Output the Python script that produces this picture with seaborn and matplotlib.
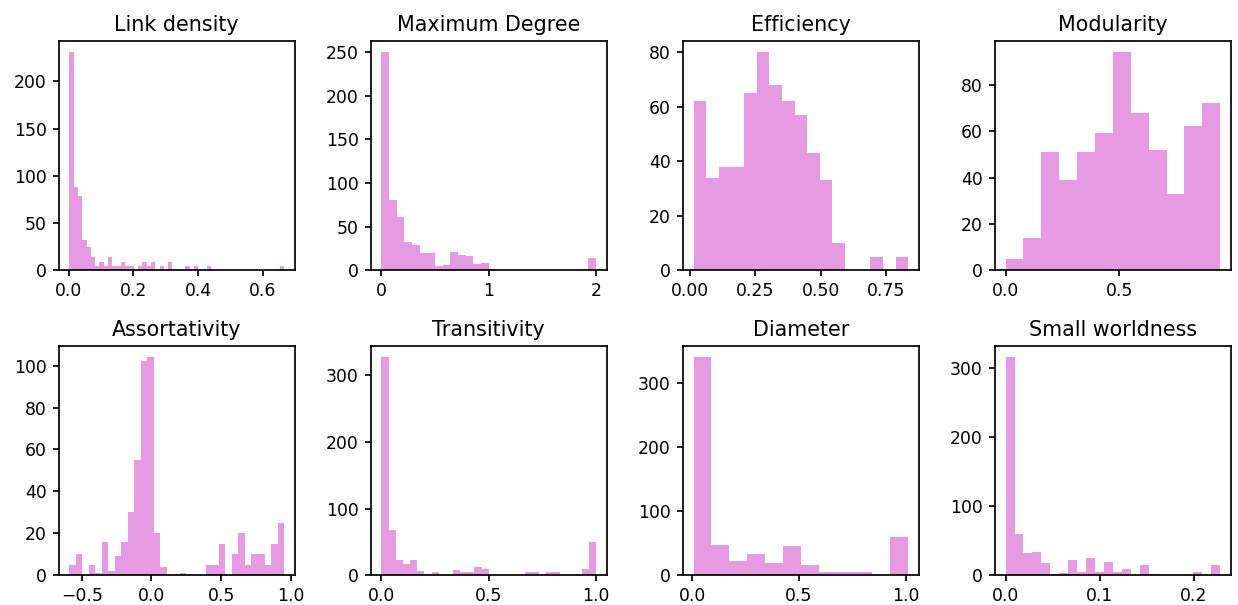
import numpy as np
import pandas as pd
import matplotlib
matplotlib.use("Agg")
import matplotlib.pyplot as plt
import seaborn as sns

# ---- data (bin ranges and counts) ----
titles = ["Link density", "Maximum Degree", "Efficiency", "Modularity",
          "Assortativity", "Transitivity", "Diameter", "Small worldness"]

link_density_range = (0.002, 0.666)
link_density_counts = [231, 88, 79, 32, 25, 14, 5, 9, 5, 14, 5, 5, 9, 5, 5, 0,
                       5, 9, 5, 9, 0, 5, 0, 9, 0, 0, 0, 5, 0, 5, 0, 0, 5, 0,
                       0, 0, 0, 0, 0, 0, 0, 0, 0, 0, 0, 0, 0, 0, 0, 5]

max_degree_range = (0.0, 2.0)
max_degree_counts = [250, 81, 61, 32, 29, 20, 20, 5, 6, 21, 18, 16, 7, 8, 2,
                     0, 0, 0, 0, 0, 0, 0, 0, 0, 0, 0, 0, 14]

efficiency_range = (0.0153, 0.833)
efficiency_counts = [62, 34, 38, 38, 65, 80, 68, 62, 57, 43, 33, 10, 0, 0, 5, 0, 5]

modularity_range = (0.0, 0.945)
modularity_counts = [5, 14, 51, 39, 51, 59, 94, 68, 52, 33, 62, 72]

assortativity_range = (-0.589, 0.952)
assortativity_counts = [5, 10, 0, 5, 1, 16, 2, 9, 16, 30, 55, 102, 104, 20, 4,
                        0, 0, 1, 0, 0, 0, 5, 5, 15, 0, 10, 20, 5, 10, 10, 5, 15, 25]

transitivity_range = (0.0, 1.0)
transitivity_counts = [327, 68, 23, 17, 23, 6, 2, 5, 0, 0, 8, 5, 5, 12, 9,
                       0, 0, 0, 0, 0, 5, 5, 0, 5, 5, 0, 0, 0, 9, 50]

diameter_range = (0.006, 1.011)
diameter_counts = [340, 47, 22, 33, 19, 46, 16, 5, 5, 5, 0, 60]

small_world_range = (0.0, 0.228)
small_world_counts = [316, 60, 32, 34, 18, 2, 3, 22, 5, 25, 5, 19, 5, 9, 0,
                      15, 2, 0, 0, 0, 0, 5, 0, 15]

panels = [
    (link_density_range, link_density_counts),
    (max_degree_range, max_degree_counts),
    (efficiency_range, efficiency_counts),
    (modularity_range, modularity_counts),
    (assortativity_range, assortativity_counts),
    (transitivity_range, transitivity_counts),
    (diameter_range, diameter_counts),
    (small_world_range, small_world_counts),
]

plt.rcParams["axes.linewidth"] = 1.0
plt.rcParams["xtick.major.width"] = 1.0
plt.rcParams["ytick.major.width"] = 1.0

DPI = 123.8
fig, axes = plt.subplots(2, 4, figsize=(1238 / DPI, 605 / DPI))
fig.subplots_adjust(left=0.0474, right=0.9943, top=0.9317, bottom=0.0491,
                    wspace=0.322, hspace=0.332)

for ax, title, (rng, counts) in zip(axes.flat, titles, panels):
    edges = np.linspace(rng[0], rng[1], len(counts) + 1)
    centers = (edges[:-1] + edges[1:]) / 2
    df = pd.DataFrame({"value": centers, "count": np.asarray(counts, dtype=float)})
    sns.histplot(data=df, x="value", weights="count", bins=list(edges), ax=ax,
                 color="orchid", alpha=0.7, linewidth=0, stat="count")
    ax.set_title(title, fontsize=12)
    ax.set_xlabel("")
    ax.set_ylabel("")

fig.savefig("out.png", dpi=DPI)
